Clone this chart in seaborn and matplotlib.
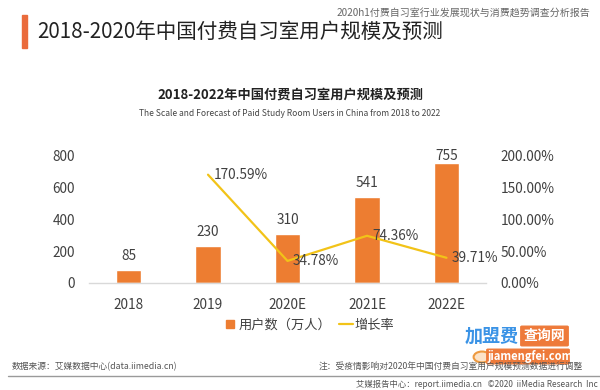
import matplotlib
matplotlib.use("Agg")
import matplotlib.pyplot as plt
import seaborn as sns
import numpy as np
import pandas as pd
from matplotlib.lines import Line2D
from matplotlib.patches import Rectangle, FancyBboxPatch, Circle

# ---------------- data ----------------
years = ["2018", "2019", "2020E", "2021E", "2022E"]
users = [85, 230, 310, 541, 755]                      # 万人
growth = [np.nan, 170.59, 34.78, 74.36, 39.71]         # %
left_ticks = [0, 200, 400, 600, 800]
right_ticks = [0, 50, 100, 150, 200]

header_title = "2018-2020年中国付费自习室用户规模及预测"
report_name = "2020h1付费自习室行业发展现状与消费趋势调查分析报告"
chart_title = "2018-2022年中国付费自习室用户规模及预测"
chart_subtitle = "The Scale and Forecast of Paid Study Room Users in China from 2018 to 2022"
legend_labels = ["用户数（万人）", "增长率"]
source_text = "数据来源：艾媒数据中心(data.iimedia.cn)"
note_text = "注：受疫情影响对2020年中国付费自习室用户规模预测数据进行调整"
footer_text = "艾媒报告中心：report.iimedia.cn   ©2020  iiMedia Research  Inc"

sns.set_theme(style="white")
plt.rcParams["font.family"] = ["Noto Sans CJK SC", "DejaVu Sans"]

BAR = "#ED7D31"
LINE = "#F2C318"
TXT = "#404040"
FS = 9.8

W, H = 600, 390
fig = plt.figure(figsize=(6, 3.9), dpi=100)
fig.patch.set_facecolor("white")

def fx(px):
    return px / W

def fy(py):
    return 1 - py / H

# axes: x from 88.75 to 486.25 px, y from 156 (top) to 283 (bottom)
ax = fig.add_axes([fx(88.75), fy(283), fx(486.25 - 88.75), (283 - 156) / H])
df = pd.DataFrame({"year": years, "users": users, "growth": growth})

sns.barplot(data=df, x="year", y="users", color=BAR, width=0.315,
            saturation=1, ax=ax, zorder=2)
ax.set_xlim(-0.5, 4.5)
ax.set_ylim(0, 800)
ax.set_yticks(left_ticks)
ax.set_xlabel("")
ax.set_ylabel("")
for s in ["top", "right", "left"]:
    ax.spines[s].set_visible(False)
ax.spines["bottom"].set_color("#D9D9D9")
ax.spines["bottom"].set_linewidth(1.0)
ax.tick_params(axis="both", length=0, labelsize=FS, labelcolor=TXT)
ax.tick_params(axis="y", pad=10)
ax.tick_params(axis="x", pad=11)
ax.grid(False)

# bar value labels (clamped at the top of plot area)
off = 14 / 127 * 800
for i, v in enumerate(users):
    ax.text(i, min(v + off, 800), f"{v}", ha="center", va="center",
            fontsize=FS, color=TXT)

ax2 = ax.twinx()
sns.lineplot(data=df, x="year", y="growth", color=LINE, linewidth=1.6,
             ax=ax2, zorder=3, sort=False)
ax2.set_ylim(0, 200)
ax2.set_yticks(right_ticks)
ax2.set_yticklabels([f"{t:.2f}%" for t in right_ticks])
ax2.set_xlim(-0.5, 4.5)
ax2.set_ylabel("")
ax2.set_xlabel("")
for s in ["top", "right", "left", "bottom"]:
    ax2.spines[s].set_visible(False)
ax2.tick_params(axis="y", length=0, labelsize=FS, labelcolor=TXT, pad=10.5)
ax2.grid(False)
for i, g in enumerate(growth):
    if not np.isnan(g):
        ax2.annotate(f"{g:.2f}%", (i, g), xytext=(4, 0), textcoords="offset points",
                     ha="left", va="center", fontsize=FS, color=TXT)

# legend
handles = [Line2D([], [], marker="s", linestyle="", color=BAR, markersize=6),
           Line2D([], [], color=LINE, linewidth=1.6)]
fig.legend(handles, legend_labels, loc="center", bbox_to_anchor=(fx(309), fy(325)),
           ncol=2, frameon=False, fontsize=9.5, handlelength=1.0, handletextpad=0.15,
           columnspacing=0.6, labelcolor=TXT)

# header
fig.patches.append(Rectangle((fx(22), fy(48)), fx(5), (48 - 15) / H,
                             transform=fig.transFigure, color="#EA6B3C"))
fig.text(fx(37), fy(32), header_title, fontsize=14.8, fontweight="medium",
         color="#222222", va="center", ha="left")
fig.text(fx(590), fy(13), report_name, fontsize=7.2, color="#666666",
         va="center", ha="right")

# chart titles
fig.text(fx(290), fy(95), chart_title, fontsize=9.5, fontweight="bold",
         color="#222222", ha="center", va="center")
fig.text(fx(290), fy(113), chart_subtitle, fontsize=6.1, color="#444444",
         ha="center", va="center")

# footer
fig.text(fx(12), fy(367), source_text, fontsize=6.3, color="#555555",
         ha="left", va="center")
fig.text(fx(583), fy(367), note_text, fontsize=6.3, color="#555555",
         ha="right", va="center")
fig.add_artist(Line2D([fx(8), fx(600)], [fy(376), fy(376)], color="#9A9A9A",
                      linewidth=1.0, transform=fig.transFigure))
fig.text(fx(598), fy(384), footer_text, fontsize=6.0, color="#555555",
         ha="right", va="center")

# watermark
fig.text(fx(465), fy(336), "加盟费", fontsize=13, color="#3A93E6",
         fontweight="bold", style="italic", ha="left", va="center")
fig.patches.append(FancyBboxPatch((fx(522), fy(345)), fx(45), (345 - 327) / H,
                                  boxstyle="round,pad=0.002", transform=fig.transFigure,
                                  color="#EE7A3A"))
fig.text(fx(544.5), fy(336), "查询网", fontsize=10, color="white",
         fontweight="bold", ha="center", va="center")
fig.patches.append(FancyBboxPatch((fx(488), fy(363)), fx(80), (363 - 350) / H,
                                  boxstyle="round,pad=0.002", transform=fig.transFigure,
                                  color="#EE7A3A"))
fig.text(fx(530), fy(356.5), "jiamengfei.com", fontsize=8, color="white",
         fontweight="bold", ha="center", va="center")
fig.add_artist(Circle((fx(482), fy(357)), 0.014, transform=fig.transFigure,
                      facecolor="#FCE3C8", edgecolor="#EE9A40", linewidth=1.5))

fig.savefig("out.png", dpi=100, facecolor="white")
